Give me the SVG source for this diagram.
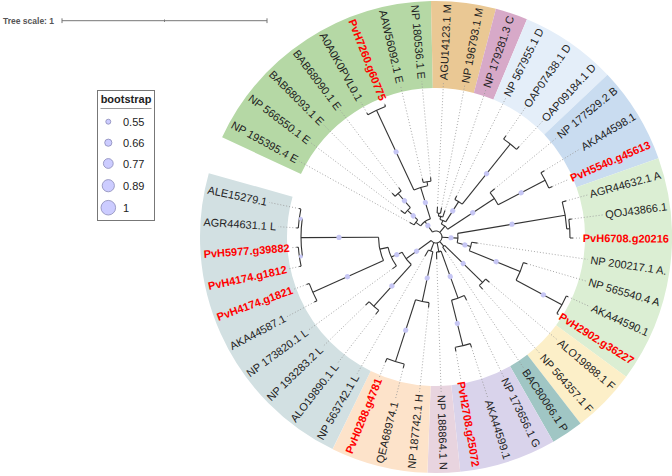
<svg xmlns="http://www.w3.org/2000/svg" width="672" height="476" viewBox="0 0 672 476">
<style>
text{font-family:"Liberation Sans",Arial,sans-serif;font-size:11px;fill:#222}
.r{fill:#ff0000;font-weight:bold}
.b{fill:none;stroke-width:87}
.t path,.t circle{fill:none;stroke:#333;stroke-width:1.1}
.d{stroke:#999;stroke-width:0.8;stroke-dasharray:1 2;fill:none}
.bs{fill:#c6c6f4;stroke:none}
.lg{fill:#ccccff;stroke:#8a8ab8;stroke-width:0.8}
</style>
<rect width="672" height="476" fill="#fff"/>
<g id="scale">
<text x="3" y="24" style="font-size:8.5px;font-weight:bold;fill:#555">Tree scale: 1</text>
<path d="M62 20.7H267M62 18.3V23.1M267 18.3V23.1M164.5 19.5V21.9" stroke="#777" stroke-width="1" fill="none"/>
</g>
<g id="legend">
<rect x="97.5" y="90.5" width="57" height="130" fill="#fff" stroke="#777"/>
<text x="126" y="103" text-anchor="middle" style="font-weight:bold">bootstrap</text>
<path d="M100.5 108.5H151.5" stroke="#999"/>
<circle class="lg" cx="108.3" cy="121.7" r="2.5"/><text x="123" y="125.5">0.55</text>
<circle class="lg" cx="108.3" cy="142.7" r="3.6"/><text x="123" y="146.5">0.66</text>
<circle class="lg" cx="108.3" cy="163.5" r="4.9"/><text x="123" y="167.5">0.77</text>
<circle class="lg" cx="108.3" cy="185.7" r="6.1"/><text x="123" y="189.5">0.89</text>
<circle class="lg" cx="108.3" cy="207.7" r="7.3"/><text x="123" y="211.5">1</text>
</g>
<g transform="translate(436 237)">
<g id="bands">
<circle class="b" r="192.5" pathLength="360" stroke="#b5d8a5" stroke-dasharray="63.775 400" transform="rotate(-155)"/>
<circle class="b" r="192.5" pathLength="360" stroke="#eac894" stroke-dasharray="15.94 400" transform="rotate(-91.225)"/>
<circle class="b" r="192.5" pathLength="360" stroke="#d7a9c8" stroke-dasharray="7.97 400" transform="rotate(-75.285)"/>
<circle class="b" r="192.5" pathLength="360" stroke="#e4eef9" stroke-dasharray="23.91 400" transform="rotate(-67.315)"/>
<circle class="b" r="192.5" pathLength="360" stroke="#c9dcf0" stroke-dasharray="23.91 400" transform="rotate(-43.405)"/>
<circle class="b" r="192.5" pathLength="360" stroke="#dbeed3" stroke-dasharray="55.79 400" transform="rotate(-19.495)"/>
<circle class="b" r="192.5" pathLength="360" stroke="#fcefc8" stroke-dasharray="15.94 400" transform="rotate(36.295)"/>
<circle class="b" r="192.5" pathLength="360" stroke="#a0c6c4" stroke-dasharray="7.97 400" transform="rotate(52.235)"/>
<circle class="b" r="192.5" pathLength="360" stroke="#d9d3eb" stroke-dasharray="23.91 400" transform="rotate(60.205)"/>
<circle class="b" r="192.5" pathLength="360" stroke="#e8d4df" stroke-dasharray="7.97 400" transform="rotate(84.115)"/>
<circle class="b" r="192.5" pathLength="360" stroke="#fde3ca" stroke-dasharray="23.91 400" transform="rotate(92.085)"/>
<circle class="b" r="192.5" pathLength="360" stroke="#d2e0e2" stroke-dasharray="79.7 400" transform="rotate(115.995)"/>
</g>
<g id="connectors" class="t">
<circle r="6" pathLength="360" stroke-dasharray="269.5 400" transform="rotate(-125.6)"/>
<path transform="rotate(-125.6)" d="M6 0H19"/>
<circle r="19" pathLength="360" stroke-dasharray="36.885 400" transform="rotate(-144.05)"/>
<path transform="rotate(-144.05)" d="M19 0H25"/>
<circle r="25" pathLength="360" stroke-dasharray="13.95 400" transform="rotate(-151)"/>
<path transform="rotate(-151)" d="M25 0H30"/>
<path transform="rotate(-137.05)" d="M25 0H39"/>
<circle r="39" pathLength="360" stroke-dasharray="11.955 400" transform="rotate(-143.03)"/>
<path transform="rotate(-143.03)" d="M39 0H44"/>
<path transform="rotate(-131.075)" d="M39 0H57.7"/>
<circle r="57.7" pathLength="360" stroke-dasharray="7.97 400" transform="rotate(-135.06)"/>
<path transform="rotate(-135.06)" d="M57.7 0H62"/>
<path transform="rotate(-127.09)" d="M57.7 0H62"/>
<path transform="rotate(-107.165)" d="M19 0H52"/>
<circle r="52" pathLength="360" stroke-dasharray="15.94 400" transform="rotate(-115.135)"/>
<path transform="rotate(-115.135)" d="M52 0H140"/>
<circle r="140" pathLength="360" stroke-dasharray="7.97 400" transform="rotate(-119.12)"/>
<path transform="rotate(-119.12)" d="M140 0H142"/>
<path transform="rotate(-111.15)" d="M140 0H142"/>
<path transform="rotate(-99.195)" d="M52 0H56"/>
<circle r="56" pathLength="360" stroke-dasharray="7.97 400" transform="rotate(-103.18)"/>
<path transform="rotate(-103.18)" d="M56 0H60"/>
<path transform="rotate(-95.21)" d="M56 0H60"/>
<path transform="rotate(-50.38)" d="M6 0H14"/>
<circle r="14" pathLength="360" stroke-dasharray="33.88 400" transform="rotate(-67.325)"/>
<path transform="rotate(-67.325)" d="M14 0H18"/>
<circle r="18" pathLength="360" stroke-dasharray="19.93 400" transform="rotate(-77.28)"/>
<path transform="rotate(-77.28)" d="M18 0H21"/>
<circle r="21" pathLength="360" stroke-dasharray="11.955 400" transform="rotate(-83.255)"/>
<path transform="rotate(-83.255)" d="M21 0H24"/>
<circle r="24" pathLength="360" stroke-dasharray="7.97 400" transform="rotate(-87.24)"/>
<path transform="rotate(-87.24)" d="M24 0H30"/>
<path transform="rotate(-79.27)" d="M24 0H30"/>
<path transform="rotate(-71.3)" d="M21 0H28"/>
<path transform="rotate(-57.35)" d="M18 0H42"/>
<circle r="42" pathLength="360" stroke-dasharray="11.955 400" transform="rotate(-63.33)"/>
<path transform="rotate(-63.33)" d="M42 0H46"/>
<path transform="rotate(-51.375)" d="M42 0H119"/>
<circle r="119" pathLength="360" stroke-dasharray="7.97 400" transform="rotate(-55.36)"/>
<path transform="rotate(-55.36)" d="M119 0H123"/>
<path transform="rotate(-47.39)" d="M119 0H123"/>
<path transform="rotate(-33.4425)" d="M14 0H70"/>
<circle r="70" pathLength="360" stroke-dasharray="11.955 400" transform="rotate(-39.42)"/>
<path transform="rotate(-39.42)" d="M70 0H76"/>
<path transform="rotate(-27.465)" d="M70 0H123"/>
<circle r="123" pathLength="360" stroke-dasharray="7.97 400" transform="rotate(-31.45)"/>
<path transform="rotate(-31.45)" d="M123 0H127"/>
<path transform="rotate(-23.48)" d="M123 0H127"/>
<path transform="rotate(2.92)" d="M6 0H22"/>
<circle r="22" pathLength="360" stroke-dasharray="24.906 400" transform="rotate(-9.5325)"/>
<path transform="rotate(-9.5325)" d="M22 0H131"/>
<circle r="131" pathLength="360" stroke-dasharray="11.955 400" transform="rotate(-15.51)"/>
<path transform="rotate(-15.51)" d="M131 0H135"/>
<path transform="rotate(-3.555)" d="M131 0H134"/>
<circle r="134" pathLength="360" stroke-dasharray="7.97 400" transform="rotate(-7.54)"/>
<path transform="rotate(-7.54)" d="M134 0H137"/>
<path transform="rotate(0.43)" d="M134 0H137"/>
<path transform="rotate(15.374)" d="M22 0H36"/>
<circle r="36" pathLength="360" stroke-dasharray="13.9475 400" transform="rotate(8.4)"/>
<path transform="rotate(8.4)" d="M36 0H42"/>
<path transform="rotate(22.3475)" d="M36 0H91"/>
<circle r="91" pathLength="360" stroke-dasharray="11.955 400" transform="rotate(16.37)"/>
<path transform="rotate(16.37)" d="M91 0H95"/>
<path transform="rotate(28.325)" d="M91 0H143"/>
<circle r="143" pathLength="360" stroke-dasharray="7.97 400" transform="rotate(24.34)"/>
<path transform="rotate(24.34)" d="M143 0H145"/>
<path transform="rotate(32.31)" d="M143 0H145"/>
<path transform="rotate(50.24)" d="M6 0H12"/>
<circle r="12" pathLength="360" stroke-dasharray="11.955 400" transform="rotate(44.265)"/>
<path transform="rotate(44.265)" d="M12 0H65"/>
<circle r="65" pathLength="360" stroke-dasharray="7.97 400" transform="rotate(40.28)"/>
<path transform="rotate(40.28)" d="M65 0H70"/>
<path transform="rotate(48.25)" d="M65 0H70"/>
<path transform="rotate(56.22)" d="M12 0H18"/>
<path transform="rotate(79.135)" d="M6 0H15"/>
<circle r="15" pathLength="360" stroke-dasharray="17.93 400" transform="rotate(70.17)"/>
<path transform="rotate(70.17)" d="M15 0H65"/>
<circle r="65" pathLength="360" stroke-dasharray="11.955 400" transform="rotate(64.19)"/>
<path transform="rotate(64.19)" d="M65 0H70"/>
<path transform="rotate(76.145)" d="M65 0H112"/>
<circle r="112" pathLength="360" stroke-dasharray="7.97 400" transform="rotate(72.16)"/>
<path transform="rotate(72.16)" d="M112 0H116"/>
<path transform="rotate(80.13)" d="M112 0H116"/>
<path transform="rotate(88.1)" d="M15 0H22"/>
<path transform="rotate(111.015)" d="M6 0H15"/>
<circle r="15" pathLength="360" stroke-dasharray="17.93 400" transform="rotate(102.05)"/>
<path transform="rotate(102.05)" d="M15 0H66"/>
<circle r="66" pathLength="360" stroke-dasharray="11.955 400" transform="rotate(96.07)"/>
<path transform="rotate(96.07)" d="M66 0H71"/>
<path transform="rotate(108.025)" d="M66 0H131"/>
<circle r="131" pathLength="360" stroke-dasharray="7.97 400" transform="rotate(104.04)"/>
<path transform="rotate(104.04)" d="M131 0H135"/>
<path transform="rotate(112.01)" d="M131 0H135"/>
<path transform="rotate(119.98)" d="M15 0H22"/>
<path transform="rotate(143.89)" d="M6 0H37"/>
<circle r="37" pathLength="360" stroke-dasharray="23.91 400" transform="rotate(131.935)"/>
<path transform="rotate(131.935)" d="M37 0H93"/>
<circle r="93" pathLength="360" stroke-dasharray="7.97 400" transform="rotate(127.95)"/>
<path transform="rotate(127.95)" d="M93 0H98"/>
<path transform="rotate(135.92)" d="M93 0H98"/>
<path transform="rotate(155.845)" d="M37 0H49"/>
<circle r="49" pathLength="360" stroke-dasharray="23.91 400" transform="rotate(143.89)"/>
<path transform="rotate(143.89)" d="M49 0H54"/>
<path transform="rotate(167.8)" d="M49 0H57.5"/>
<circle r="57.5" pathLength="360" stroke-dasharray="23.91 400" transform="rotate(155.845)"/>
<path transform="rotate(155.845)" d="M57.5 0H135"/>
<circle r="135" pathLength="360" stroke-dasharray="7.97 400" transform="rotate(151.86)"/>
<path transform="rotate(151.86)" d="M135 0H138"/>
<path transform="rotate(159.83)" d="M135 0H138"/>
<path transform="rotate(179.755)" d="M57.5 0H135"/>
<circle r="135" pathLength="360" stroke-dasharray="15.94 400" transform="rotate(171.785)"/>
<path transform="rotate(171.785)" d="M135 0H138"/>
<path transform="rotate(187.725)" d="M135 0H138"/>
<circle r="138" pathLength="360" stroke-dasharray="7.97 400" transform="rotate(167.8)"/>
<circle r="138" pathLength="360" stroke-dasharray="7.97 400" transform="rotate(183.74)"/>
<path transform="rotate(167.8)" d="M138 0H140"/>
<path transform="rotate(175.77)" d="M138 0H140"/>
<path transform="rotate(183.74)" d="M138 0H140"/>
<path transform="rotate(191.71)" d="M138 0H140"/>
</g>
<g id="bootstrap">
<circle class="bs" r="2.6" cx="14" transform="rotate(-125.6)"/>
<circle class="bs" r="2.6" cx="31" transform="rotate(-137.05)"/>
<circle class="bs" r="2.6" cx="48" transform="rotate(-131.075)"/>
<circle class="bs" r="2.6" cx="36" transform="rotate(-107.165)"/>
<circle class="bs" r="2.6" cx="94" transform="rotate(-115.135)"/>
<circle class="bs" r="2.6" cx="31" transform="rotate(-57.35)"/>
<circle class="bs" r="2.6" cx="81" transform="rotate(-51.375)"/>
<circle class="bs" r="2.6" cx="44" transform="rotate(-33.4425)"/>
<circle class="bs" r="2.6" cx="96" transform="rotate(-27.465)"/>
<circle class="bs" r="2.6" cx="15" transform="rotate(2.92)"/>
<circle class="bs" r="2.6" cx="77" transform="rotate(-9.5325)"/>
<circle class="bs" r="2.6" cx="30" transform="rotate(15.374)"/>
<circle class="bs" r="2.6" cx="65" transform="rotate(22.3475)"/>
<circle class="bs" r="2.6" cx="122" transform="rotate(28.325)"/>
<circle class="bs" r="2.6" cx="38" transform="rotate(44.265)"/>
<circle class="bs" r="2.6" cx="42" transform="rotate(70.17)"/>
<circle class="bs" r="2.6" cx="89" transform="rotate(76.145)"/>
<circle class="bs" r="2.6" cx="42" transform="rotate(102.05)"/>
<circle class="bs" r="2.6" cx="98" transform="rotate(108.025)"/>
<circle class="bs" r="2.6" cx="24" transform="rotate(143.89)"/>
<circle class="bs" r="2.6" cx="66" transform="rotate(131.935)"/>
<circle class="bs" r="2.6" cx="43" transform="rotate(155.845)"/>
<circle class="bs" r="2.6" cx="97" transform="rotate(155.845)"/>
<circle class="bs" r="2.6" cx="97" transform="rotate(179.755)"/>
<circle class="bs" r="2" cx="136.5" transform="rotate(171.785)"/>
<circle class="bs" r="2" cx="136.5" transform="rotate(187.725)"/>
</g>
<g id="leaves">
<g id="leaf0" transform="rotate(-151)"><path class="d" d="M30 0H156.4"/><text transform="rotate(180)" x="-233" dy="0.35em">NP 195395.4 E</text></g>
<g id="leaf1" transform="rotate(-143.03)"><path class="d" d="M44 0H156.4"/><text transform="rotate(180)" x="-233" dy="0.35em">NP 566550.1 E</text></g>
<g id="leaf2" transform="rotate(-135.06)"><path class="d" d="M62 0H158.8"/><text transform="rotate(180)" x="-233" dy="0.35em">BAB68093.1 E</text></g>
<g id="leaf3" transform="rotate(-127.09)"><path class="d" d="M62 0H158.8"/><text transform="rotate(180)" x="-233" dy="0.35em">BAB68090.1 E</text></g>
<g id="leaf4" transform="rotate(-119.12)"><path class="d" d="M142 0H154.5"/><text transform="rotate(180)" x="-233" dy="0.35em">A0A0K0PVL0.1</text></g>
<g id="leaf5" transform="rotate(-111.15)"><path class="d" d="M142 0H144.7"/><text class="r" transform="rotate(180)" x="-233" dy="0.35em">PvH7260.g60775</text></g>
<g id="leaf6" transform="rotate(-103.18)"><path class="d" d="M60 0H155.8"/><text transform="rotate(180)" x="-233" dy="0.35em">AAW56092.1 E</text></g>
<g id="leaf7" transform="rotate(-95.21)"><path class="d" d="M60 0H156.4"/><text transform="rotate(180)" x="-233" dy="0.35em">NP 180536.1 E</text></g>
<g id="leaf8" transform="rotate(-87.24)"><path class="d" d="M30 0H155.2"/><text x="233" dy="0.35em" text-anchor="end">AGU14123.1 M</text></g>
<g id="leaf9" transform="rotate(-79.27)"><path class="d" d="M30 0H154.5"/><text x="233" dy="0.35em" text-anchor="end">NP 196793.1 M</text></g>
<g id="leaf10" transform="rotate(-71.3)"><path class="d" d="M28 0H155.8"/><text x="233" dy="0.35em" text-anchor="end">NP 179281.3 C</text></g>
<g id="leaf11" transform="rotate(-63.33)"><path class="d" d="M46 0H155.8"/><text x="233" dy="0.35em" text-anchor="end">NP 567955.1 D</text></g>
<g id="leaf12" transform="rotate(-55.36)"><path class="d" d="M123 0H157"/><text x="233" dy="0.35em" text-anchor="end">OAP07438.1 D</text></g>
<g id="leaf13" transform="rotate(-47.39)"><path class="d" d="M123 0H157"/><text x="233" dy="0.35em" text-anchor="end">OAP09184.1 D</text></g>
<g id="leaf14" transform="rotate(-39.42)"><path class="d" d="M76 0H156.4"/><text x="233" dy="0.35em" text-anchor="end">NP 177529.2 B</text></g>
<g id="leaf15" transform="rotate(-31.45)"><path class="d" d="M127 0H169.2"/><text x="233" dy="0.35em" text-anchor="end">AKA44598.1</text></g>
<g id="leaf16" transform="rotate(-23.48)"><path class="d" d="M127 0H144.7"/><text class="r" x="233" dy="0.35em" text-anchor="end">PvH5540.g45613</text></g>
<g id="leaf17" transform="rotate(-15.51)"><path class="d" d="M135 0H157"/><text x="233" dy="0.35em" text-anchor="end">AGR44632.1 A</text></g>
<g id="leaf18" transform="rotate(-7.54)"><path class="d" d="M137 0H168.6"/><text x="233" dy="0.35em" text-anchor="end">QOJ43866.1</text></g>
<g id="leaf19" transform="rotate(0.43)"><path class="d" d="M137 0H144.7"/><text class="r" x="233" dy="0.35em" text-anchor="end">PvH6708.g20216</text></g>
<g id="leaf20" transform="rotate(8.4)"><path class="d" d="M42 0H153.3"/><text x="233" dy="0.35em" text-anchor="end">NP 200217.1 A.</text></g>
<g id="leaf21" transform="rotate(16.37)"><path class="d" d="M95 0H156.4"/><text x="233" dy="0.35em" text-anchor="end">NP 565540.4 A</text></g>
<g id="leaf22" transform="rotate(24.34)"><path class="d" d="M145 0H169.2"/><text x="233" dy="0.35em" text-anchor="end">AKA44590.1</text></g>
<g id="leaf23" transform="rotate(32.31)"><text class="r" x="233" dy="0.35em" text-anchor="end">PvH2902.g36227</text></g>
<g id="leaf24" transform="rotate(40.28)"><path class="d" d="M70 0H159.4"/><text x="233" dy="0.35em" text-anchor="end">ALO19888.1 F</text></g>
<g id="leaf25" transform="rotate(48.25)"><path class="d" d="M70 0H157"/><text x="233" dy="0.35em" text-anchor="end">NP 564357.1 F</text></g>
<g id="leaf26" transform="rotate(56.22)"><path class="d" d="M18 0H158.2"/><text x="233" dy="0.35em" text-anchor="end">BAC80066.1 P</text></g>
<g id="leaf27" transform="rotate(64.19)"><path class="d" d="M70 0H155.1"/><text x="233" dy="0.35em" text-anchor="end">NP 173656.1 G</text></g>
<g id="leaf28" transform="rotate(72.16)"><path class="d" d="M116 0H169.2"/><text x="233" dy="0.35em" text-anchor="end">AKA44599.1</text></g>
<g id="leaf29" transform="rotate(80.13)"><path class="d" d="M116 0H144.7"/><text class="r" x="233" dy="0.35em" text-anchor="end">PvH2708.g25072</text></g>
<g id="leaf30" transform="rotate(88.1)"><path class="d" d="M22 0H155.8"/><text x="233" dy="0.35em" text-anchor="end">NP 188864.1 N</text></g>
<g id="leaf31" transform="rotate(96.07)"><path class="d" d="M71 0H155.8"/><text transform="rotate(180)" x="-233" dy="0.35em">NP 187742.1 H</text></g>
<g id="leaf32" transform="rotate(104.04)"><path class="d" d="M135 0H168"/><text transform="rotate(180)" x="-233" dy="0.35em">QEA68974.1</text></g>
<g id="leaf33" transform="rotate(112.01)"><path class="d" d="M135 0H150.9"/><text class="r" transform="rotate(180)" x="-233" dy="0.35em">PvH0288.g4781</text></g>
<g id="leaf34" transform="rotate(119.98)"><path class="d" d="M22 0H157.6"/><text transform="rotate(180)" x="-233" dy="0.35em">NP 563742.1 L</text></g>
<g id="leaf35" transform="rotate(127.95)"><path class="d" d="M98 0H160"/><text transform="rotate(180)" x="-233" dy="0.35em">ALO19890.1 L</text></g>
<g id="leaf36" transform="rotate(135.92)"><path class="d" d="M98 0H157.6"/><text transform="rotate(180)" x="-233" dy="0.35em">NP 193283.2 L</text></g>
<g id="leaf37" transform="rotate(143.89)"><path class="d" d="M54 0H157.6"/><text transform="rotate(180)" x="-233" dy="0.35em">NP 173820.1 L</text></g>
<g id="leaf38" transform="rotate(151.86)"><path class="d" d="M138 0H169.2"/><text transform="rotate(180)" x="-233" dy="0.35em">AKA44587.1</text></g>
<g id="leaf39" transform="rotate(159.83)"><path class="d" d="M138 0H150.9"/><text class="r" transform="rotate(180)" x="-233" dy="0.35em">PvH4174.g1821</text></g>
<g id="leaf40" transform="rotate(167.8)"><path class="d" d="M140 0H150.9"/><text class="r" transform="rotate(180)" x="-233" dy="0.35em">PvH4174.g1812</text></g>
<g id="leaf41" transform="rotate(175.77)"><path class="d" d="M140 0H144.7"/><text class="r" transform="rotate(180)" x="-233" dy="0.35em">PvH5977.g39882</text></g>
<g id="leaf42" transform="rotate(183.74)"><path class="d" d="M140 0H158.2"/><text transform="rotate(180)" x="-233" dy="0.35em">AGR44631.1 L</text></g>
<g id="leaf43" transform="rotate(191.71)"><path class="d" d="M140 0H170.4"/><text transform="rotate(180)" x="-233" dy="0.35em">ALE15279.1</text></g>
</g>
</g>
</svg>
